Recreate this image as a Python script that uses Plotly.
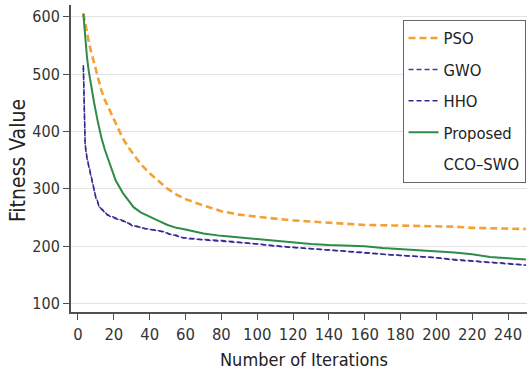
import plotly.graph_objects as go

# ---- data ----
iters_slow = [3, 4, 5, 6, 7, 9, 11, 13, 15, 18, 21, 25, 28, 31, 35, 40, 45, 50, 55, 60,
              70, 80, 90, 100, 110, 120, 130, 140, 150, 160, 170, 180, 190, 200, 210,
              220, 230, 240, 250]
pso = [606, 588, 572, 557, 543, 518, 493, 472, 455, 435, 415, 388, 373, 360, 343, 327, 313,
       300, 290, 282, 271, 261, 255, 251, 248, 245, 243, 241, 239, 237, 236.5, 236, 235.5,
       235, 234, 232, 231, 231, 230]
proposed = [605, 565, 530, 505, 485, 450, 418, 390, 368, 342, 315, 293, 280, 268, 259, 251,
            244, 237, 232, 229, 222, 218, 215, 213, 210, 206, 204, 202, 201, 200, 197, 195,
            194, 191, 189, 186, 181, 179, 177]

iters_fast = [3, 3.5, 4, 5, 6, 7, 8, 9, 10, 11, 12, 14, 16, 18, 20, 22, 25, 28, 30, 33, 36,
              40, 44, 48, 51, 55, 57, 62, 70, 80, 90, 100, 110, 120, 130, 140, 150, 160,
              170, 180, 190, 200, 210, 220, 230, 240, 250]
gwo = [516, 450, 378, 355, 340, 327, 315, 300, 285, 278, 268, 263, 256, 253, 250, 248, 245,
       240, 237, 234, 232, 229, 228, 224, 222, 218, 216, 213, 212, 210, 207, 204.5, 201, 198,
       196, 193.5, 191, 188, 186, 185, 183, 180, 177, 174, 172, 170, 167]
hho = [512, 446, 375, 353, 338, 326, 313, 299, 284, 276, 267, 262, 255, 252, 249, 247, 244,
       241, 236, 235, 231, 230, 227, 225, 221, 219, 215, 214, 211, 209, 207, 204, 200, 198,
       195, 193, 191, 189, 186, 184, 182, 180, 176, 174, 171, 170, 167]

x_ticks = list(range(0, 241, 20))
y_ticks = [100, 200, 300, 400, 500, 600]

FONT = "Liberation Sans Narrow, DejaVu Sans Condensed, Roboto Condensed, Roboto, sans-serif"
FONT_Y = "DejaVu Sans Condensed, DejaVu Sans, sans-serif"
TXT = "#333333"
AX = "#505050"

fig = go.Figure()
fig.add_trace(go.Scatter(x=iters_slow, y=pso, mode="lines", name="PSO", legendgroup="a",
                         line=dict(color="#F5A032", width=2.6, dash="7px,4px")))
fig.add_trace(go.Scatter(x=iters_fast, y=gwo, mode="lines", name="GWO", legendgroup="b",
                         line=dict(color="#4638A0", width=1.5, dash="5px,3px")))
fig.add_trace(go.Scatter(x=iters_fast, y=hho, mode="lines", name="HHO", legendgroup="c",
                         line=dict(color="#35298F", width=1.5, dash="5px,3px")))
fig.add_trace(go.Scatter(x=iters_slow, y=proposed, mode="lines", name="Proposed",
                         legendgroup="d", line=dict(color="#2E8B4A", width=2)))
fig.add_trace(go.Scatter(x=[None], y=[None], mode="lines", name="CCO–SWO", legendgroup="e",
                         line=dict(color="rgba(0,0,0,0)", width=0), hoverinfo="skip"))

fig.update_layout(
    width=527, height=377,
    margin=dict(l=71, r=0, t=5, b=65, autoexpand=False),
    paper_bgcolor="white", plot_bgcolor="white",
    font=dict(family=FONT, color=TXT, size=16),
    legend=dict(x=0.727, y=0.952, xanchor="left", yanchor="top",
                bgcolor="white", bordercolor="#666666", borderwidth=1,
                font=dict(family=FONT, size=16.5, color="#222222"),
                tracegroupgap=7, traceorder="grouped", itemwidth=30),
    xaxis=dict(range=[-3.9, 250.6], tickvals=x_ticks, ticktext=[str(v) for v in x_ticks],
               showgrid=False, zeroline=False, showline=True, linecolor=AX, linewidth=2,
               ticks="outside", ticklen=6, tickcolor=AX, tickwidth=1,
               tickfont=dict(family=FONT, size=16.5, color=TXT)),
    yaxis=dict(range=[85.3, 620.4], tickvals=y_ticks, ticktext=[str(v) for v in y_ticks],
               showgrid=True, gridcolor="#E3E3E3", gridwidth=1, zeroline=False,
               showline=True, linecolor=AX, linewidth=2,
               ticks="outside", ticklen=6, tickcolor=AX, tickwidth=1,
               tickfont=dict(family=FONT_Y, size=16, color=TXT)),
    annotations=[
        dict(text="Number of Iterations", xref="paper", yref="paper",
             x=0.511, y=-0.156, xanchor="center", yanchor="middle", showarrow=False,
             font=dict(family=FONT, size=18, color="#222222")),
        dict(text="Fitness Value", xref="paper", yref="paper",
             x=-0.1162, y=0.492, xanchor="center", yanchor="middle", showarrow=False,
             textangle=-90, font=dict(family=FONT, size=21, color="#222222")),
    ],
)

fig.write_html("out.html")
